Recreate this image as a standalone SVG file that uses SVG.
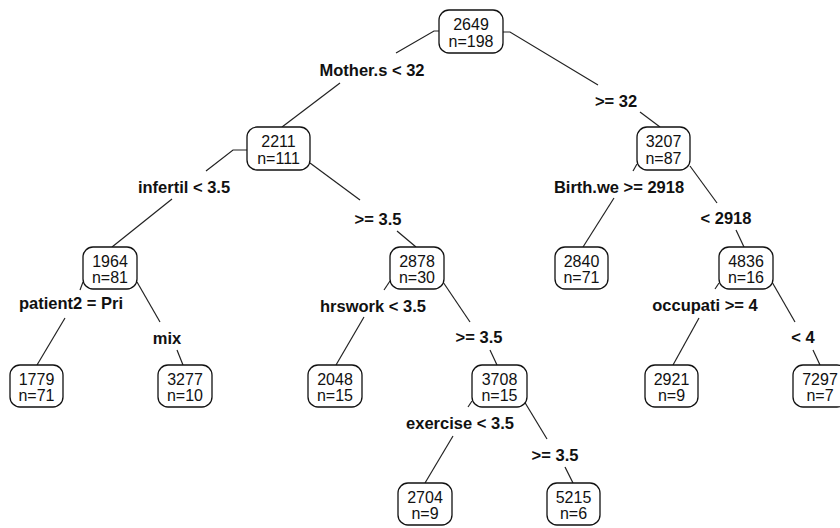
<svg xmlns="http://www.w3.org/2000/svg" width="840" height="528" viewBox="0 0 840 528">
  <style>
    .box { fill: #fff; stroke: #111; stroke-width: 1.3; }
    .val { font-family: "Liberation Sans", Arial, sans-serif; font-size: 16px; fill: #111; text-anchor: middle; }
    .split { font-family: "Liberation Sans", Arial, sans-serif; font-size: 16.5px; font-weight: bold; fill: #111; text-anchor: middle; }
    .edge { fill: none; stroke: #222; stroke-width: 1.2; }
  </style>
  <rect width="840" height="528" fill="#fff"/>

  <!-- branches: parent box -> split label -> child box -->
  <g id="connectors">
    <polyline class="edge" points="439,31 434,31 396,53"/>
    <polyline class="edge" points="340,83 282,127"/>
    <polyline class="edge" points="503,32 510,32 598,85"/>
    <polyline class="edge" points="640,112 660,127"/>

    <polyline class="edge" points="247,150 233,150 206,171"/>
    <polyline class="edge" points="172,199 112,247"/>
    <polyline class="edge" points="310,163 360,200"/>
    <polyline class="edge" points="397,231 416,247"/>

    <polyline class="edge" points="637,164 633,171"/>
    <polyline class="edge" points="614,198 583,247"/>
    <polyline class="edge" points="690,166 717,203"/>
    <polyline class="edge" points="736,230 744,247"/>

    <polyline class="edge" points="83,282 80,290"/>
    <polyline class="edge" points="65,318 37,365"/>
    <polyline class="edge" points="137,282 160,322"/>
    <polyline class="edge" points="177,350 183,365"/>

    <polyline class="edge" points="390,281 384,290"/>
    <polyline class="edge" points="364,317 336,365"/>
    <polyline class="edge" points="443,282 470,322"/>
    <polyline class="edge" points="490,350 497,365"/>

    <polyline class="edge" points="719,283 715,289"/>
    <polyline class="edge" points="699,318 673,365"/>
    <polyline class="edge" points="772,282 795,322"/>
    <polyline class="edge" points="813,350 820,365"/>

    <polyline class="edge" points="472,401 468,407"/>
    <polyline class="edge" points="453,436 425,483"/>
    <polyline class="edge" points="524,401 547,439"/>
    <polyline class="edge" points="565,467 573,483"/>
  </g>

  <!-- split labels -->
  <g id="labels">
    <text class="split" x="372" y="76">Mother.s &lt; 32</text>
    <text class="split" x="616" y="107">&gt;= 32</text>
    <text class="split" x="184" y="193">infertil &lt; 3.5</text>
    <text class="split" x="378" y="225">&gt;= 3.5</text>
    <text class="split" x="619" y="193">Birth.we &gt;= 2918</text>
    <text class="split" x="726" y="224">&lt; 2918</text>
    <text class="split" x="71" y="309">patient2 = Pri</text>
    <text class="split" x="167" y="344">mix</text>
    <text class="split" x="373" y="312">hrswork &lt; 3.5</text>
    <text class="split" x="479" y="343">&gt;= 3.5</text>
    <text class="split" x="705" y="311">occupati &gt;= 4</text>
    <text class="split" x="803" y="343">&lt; 4</text>
    <text class="split" x="460" y="429">exercise &lt; 3.5</text>
    <text class="split" x="555" y="461">&gt;= 3.5</text>
  </g>

  <!-- nodes -->
  <g id="n2649"><rect class="box" x="439" y="10" width="64" height="43" rx="10"/><text class="val" x="471" y="30">2649</text><text class="val" x="471" y="47">n=198</text></g>
  <g id="n2211"><rect class="box" x="247" y="127" width="63" height="43" rx="10"/><text class="val" x="278.5" y="147">2211</text><text class="val" x="278.5" y="164">n=111</text></g>
  <g id="n3207"><rect class="box" x="637" y="127" width="53" height="43" rx="10"/><text class="val" x="663.5" y="147">3207</text><text class="val" x="663.5" y="164">n=87</text></g>
  <g id="n1964"><rect class="box" x="83" y="247" width="54" height="42" rx="10"/><text class="val" x="110" y="267">1964</text><text class="val" x="110" y="283">n=81</text></g>
  <g id="n2878"><rect class="box" x="390" y="247" width="54" height="42" rx="10"/><text class="val" x="417" y="267">2878</text><text class="val" x="417" y="283">n=30</text></g>
  <g id="n2840"><rect class="box" x="555" y="247" width="53" height="42" rx="10"/><text class="val" x="581.5" y="267">2840</text><text class="val" x="581.5" y="283">n=71</text></g>
  <g id="n4836"><rect class="box" x="719" y="247" width="54" height="42" rx="10"/><text class="val" x="746" y="267">4836</text><text class="val" x="746" y="283">n=16</text></g>
  <g id="n1779"><rect class="box" x="10" y="365" width="53" height="42" rx="10"/><text class="val" x="36.5" y="385">1779</text><text class="val" x="36.5" y="401">n=71</text></g>
  <g id="n3277"><rect class="box" x="158" y="365" width="54" height="42" rx="10"/><text class="val" x="185" y="385">3277</text><text class="val" x="185" y="401">n=10</text></g>
  <g id="n2048"><rect class="box" x="308" y="365" width="54" height="42" rx="10"/><text class="val" x="335" y="385">2048</text><text class="val" x="335" y="401">n=15</text></g>
  <g id="n3708"><rect class="box" x="472" y="365" width="55" height="42" rx="10"/><text class="val" x="499.5" y="385">3708</text><text class="val" x="499.5" y="401">n=15</text></g>
  <g id="n2921"><rect class="box" x="645" y="365" width="53" height="42" rx="10"/><text class="val" x="671.5" y="385">2921</text><text class="val" x="671.5" y="401">n=9</text></g>
  <g id="n7297"><rect class="box" x="793" y="365" width="54" height="42" rx="10"/><text class="val" x="820" y="385">7297</text><text class="val" x="820" y="401">n=7</text></g>
  <g id="n2704"><rect class="box" x="398" y="483" width="54" height="42" rx="10"/><text class="val" x="425" y="503">2704</text><text class="val" x="425" y="519">n=9</text></g>
  <g id="n5215"><rect class="box" x="547" y="483" width="53" height="42" rx="10"/><text class="val" x="573.5" y="503">5215</text><text class="val" x="573.5" y="519">n=6</text></g>
</svg>
